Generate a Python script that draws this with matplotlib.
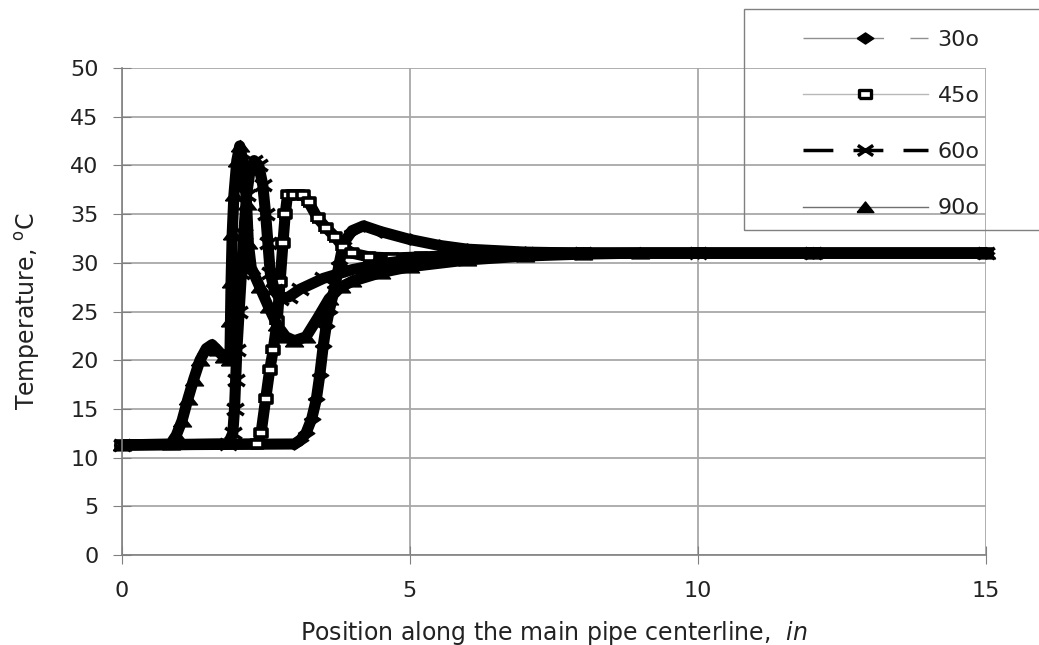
import matplotlib
matplotlib.use("Agg")
import matplotlib.pyplot as plt
from matplotlib.lines import Line2D
from matplotlib.patches import Rectangle
from matplotlib.path import Path

plt.rcParams['font.family'] = ['DejaVu Sans']
plt.rcParams['mathtext.fontset'] = 'dejavusans'

# readings taken off the figure (position in inches, temperature in C)
x_30 = [0, 3.0, 3.1, 3.2, 3.3, 3.38, 3.44, 3.5, 3.55, 3.6, 3.7, 3.78, 3.85, 4.0, 4.2,
        4.5, 5.0, 5.5, 6.0, 7.0, 8.0, 10.0, 12.0, 15.0]
t_30 = [11.3, 11.4, 11.8, 12.5, 14.0, 16.0, 18.5, 21.5, 23.5, 25.0, 27.5, 30.0, 32.0, 33.3, 33.8,
        33.2, 32.4, 31.8, 31.4, 31.1, 31.0, 31.0, 31.0, 31.0]

x_45 = [0, 2.35, 2.42, 2.5, 2.57, 2.63, 2.7, 2.75, 2.8, 2.84, 2.88, 3.0, 3.15, 3.25, 3.4,
        3.55, 3.7, 3.85, 4.0, 4.3, 4.7, 5.2, 6.0, 7.0, 8.0, 10.0, 12.0, 15.0]
t_45 = [11.3, 11.4, 12.5, 16.0, 19.0, 21.0, 24.0, 28.0, 32.0, 35.0, 37.0, 37.0, 37.0, 36.2, 34.6,
        33.6, 32.7, 31.6, 31.0, 30.6, 30.5, 30.6, 30.8, 31.0, 31.0, 31.0, 31.0, 31.0]

x_60 = [0, 1.85, 1.93, 1.96, 1.98, 2.0, 2.04, 2.08, 2.12, 2.17, 2.23, 2.3, 2.38, 2.45, 2.5,
        2.54, 2.58, 2.65, 2.75, 2.9, 3.1, 3.5, 4.0, 4.5, 5.0, 6.0, 7.0, 8.0, 10.0, 12.0, 15.0]
t_60 = [11.3, 11.4, 12.5, 15.0, 18.0, 21.0, 25.0, 29.0, 33.0, 37.0, 39.5, 40.5, 40.0, 38.0, 35.0,
        32.0, 29.0, 27.2, 26.3, 26.5, 27.3, 28.4, 29.3, 29.9, 30.3, 30.8, 31.0, 31.0, 31.0, 31.0, 31.0]

x_90 = [0, 0.85, 0.95, 1.05, 1.15, 1.25, 1.36, 1.47, 1.57, 1.67, 1.78, 1.88, 1.89, 1.9, 1.92,
        1.95, 2.0, 2.05, 2.12, 2.17, 2.2, 2.25, 2.4, 2.55, 2.7, 2.85, 3.0, 3.2, 3.4, 3.6,
        3.8, 4.0, 4.5, 5.0, 6.0, 7.0, 8.0, 9.0, 12.0, 15.0]
t_90 = [11.3, 11.4, 12.3, 13.8, 16.0, 18.0, 20.0, 21.2, 21.6, 21.0, 20.3, 20.0, 24.0, 28.0, 33.0,
        37.0, 40.5, 42.0, 40.0, 36.0, 32.0, 29.5, 27.5, 25.5, 23.6, 22.4, 22.0, 22.4, 24.3, 26.3,
        27.5, 28.1, 29.0, 29.6, 30.3, 30.7, 30.9, 31.0, 31.0, 31.0]

labels = ['30o', '45o', '60o', '90o']
x_ticks = [0, 5, 10, 15]
y_ticks = [0, 5, 10, 15, 20, 25, 30, 35, 40, 45, 50]

# the original markers are drawn wider than tall
m_diamond = Path([(-1.5, 0), (0, 1), (1.5, 0), (0, -1), (-1.5, 0)])
m_rect = Path([(-1.4, -1), (1.4, -1), (1.4, 1), (-1.4, 1), (-1.4, -1)])
m_tri = Path([(-1.5, -0.9), (1.5, -0.9), (0, 1), (-1.5, -0.9)])
m_cross = Path([(-1.5, -1), (1.5, 1), (-1.5, 1), (1.5, -1)],
               [Path.MOVETO, Path.LINETO, Path.MOVETO, Path.LINETO])

fig = plt.figure(figsize=(10.39, 6.45), dpi=100)
ax = fig.add_axes([0.117, 0.1395, 0.832, 0.755])

band = dict(color='black', lw=8, clip_on=False, solid_joinstyle='round', solid_capstyle='butt')
ax.plot(x_30, t_30, marker=m_diamond, ms=12, mfc='black', mec='black', **band)
ax.plot(x_45, t_45, marker=m_rect, ms=9, mfc='white', mec='black', mew=2.6, **band)
ax.plot(x_60, t_60, marker=m_cross, ms=12, mec='black', mew=2.5, **band)
ax.plot(x_90, t_90, marker=m_tri, ms=13, mfc='black', mec='black', **band)

ax.set_xlim(0, 15)
ax.set_ylim(0, 50)
ax.set_xticks(x_ticks)
ax.set_yticks(y_ticks)
ax.grid(True, color='#a8a8a8', lw=1.3)
ax.set_axisbelow(True)
for s in ['top', 'right']:
    ax.spines[s].set_visible(False)
for s in ['left', 'bottom']:
    ax.spines[s].set_color('#808080')
    ax.spines[s].set_linewidth(1.2)
ax.tick_params(direction='inout', length=13, color='#808080', labelsize=16, labelcolor='#222222')
ax.tick_params(axis='y', pad=10)
ax.tick_params(axis='x', pad=12)

ax.set_xlabel('Position along the main pipe centerline,  $\\it{in}$', fontsize=17, labelpad=13,
              color='#222222')
ax.set_ylabel('Temperature, $^{\\mathrm{o}}$C', fontsize=17, labelpad=20, color='#222222')

# legend, thin styles as in the original key
handles = [
    Line2D([], [], color='#909090', lw=1, dashes=(58, 19), marker=m_diamond, ms=12, mfc='black', mec='black'),
    Line2D([], [], color='#b8b8b8', lw=1, marker=m_rect, ms=9, mfc='white', mec='black', mew=2.4),
    Line2D([], [], color='black', lw=2.5, dashes=(8.6, 5.8), marker=m_cross, ms=11, mec='black', mew=2.5),
    Line2D([], [], color='#707070', lw=1, marker=m_tri, ms=12, mfc='black', mec='black'),
]
fig.legend(handles, labels, loc='upper left', bbox_to_anchor=(0.773, 0.954), frameon=False,
           handlelength=5.6, handletextpad=0.45, labelspacing=1.63, fontsize=16, borderpad=0,
           borderaxespad=0, labelcolor='#222222')
fig.patches.append(Rectangle((0.716, 0.643), 0.3, 0.343, transform=fig.transFigure,
                             fill=False, edgecolor='#808080', lw=1))

fig.savefig('out.png', dpi=100)
